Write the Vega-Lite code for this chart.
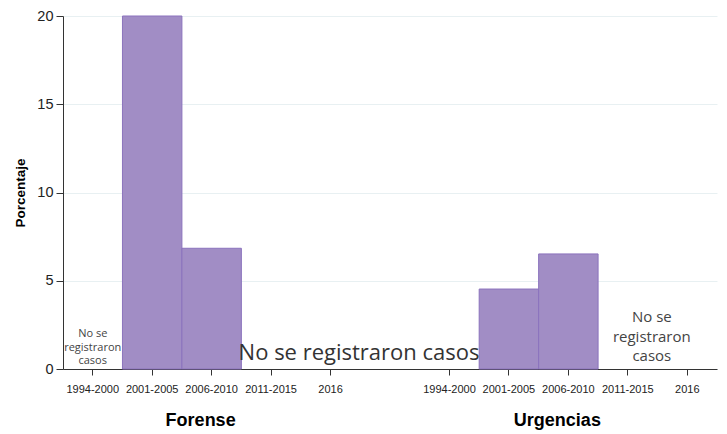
{
  "$schema": "https://vega.github.io/schema/vega-lite/v6.json",
  "width": 654,
  "height": 353,
  "autosize": {"type": "none"},
  "padding": {"left": 63, "top": 16, "right": 10, "bottom": 65},
  "background": "white",
  "config": {"view": {"stroke": null}, "font": "Liberation Sans"},
  "datasets": {
    "barras": [
      {"grupo": "Forense", "periodo": "2001-2005", "clave": "Forense|2001-2005", "porcentaje": 20},
      {"grupo": "Forense", "periodo": "2006-2010", "clave": "Forense|2006-2010", "porcentaje": 6.84},
      {"grupo": "Urgencias", "periodo": "2001-2005", "clave": "Urgencias|2001-2005", "porcentaje": 4.53},
      {"grupo": "Urgencias", "periodo": "2006-2010", "clave": "Urgencias|2006-2010", "porcentaje": 6.52}
    ],
    "notas": [
      {"nota": "a", "clave": "Forense|1994-2000", "texto": "No se\nregistraron\ncasos"},
      {"nota": "b", "clave": "Forense|2016", "texto": "No se  registraron casos"},
      {"nota": "c", "clave": "Urgencias|2011-2015", "texto": "No se\nregistraron\ncasos"}
    ],
    "grupos": [
      {"grupo": "Forense", "clave": "Forense|2006-2010"},
      {"grupo": "Urgencias", "clave": "Urgencias|2006-2010"}
    ]
  },
  "layer": [
    {
      "data": {"name": "barras"},
      "mark": {"type": "bar", "fill": "#a18dc5", "stroke": "#8b73bd", "strokeWidth": 1},
      "encoding": {
        "x": {
          "field": "clave",
          "type": "nominal",
          "sort": null,
          "scale": {
            "domain": ["Forense|1994-2000", "Forense|2001-2005", "Forense|2006-2010", "Forense|2011-2015", "Forense|2016", "sep", "Urgencias|1994-2000", "Urgencias|2001-2005", "Urgencias|2006-2010", "Urgencias|2011-2015", "Urgencias|2016"],
            "paddingInner": 0,
            "paddingOuter": 0
          },
          "axis": {
            "values": ["Forense|1994-2000", "Forense|2001-2005", "Forense|2006-2010", "Forense|2011-2015", "Forense|2016", "Urgencias|1994-2000", "Urgencias|2001-2005", "Urgencias|2006-2010", "Urgencias|2011-2015", "Urgencias|2016"],
            "labelExpr": "split(datum.value, '|')[1]",
            "title": null,
            "labelAngle": 0,
            "labelOverlap": false,
            "labelFontSize": 11,
            "labelColor": "#222",
            "labelPadding": 8,
            "tickSize": 6,
            "tickColor": "#333",
            "domainColor": "#333",
            "grid": false
          }
        },
        "y": {
          "field": "porcentaje",
          "type": "quantitative",
          "scale": {"domain": [0, 20], "nice": false},
          "axis": {
            "values": [0, 5, 10, 15, 20],
            "title": "Porcentaje",
            "titleFontSize": 13.5,
            "titleFontWeight": "bold",
            "titleColor": "#000",
            "titlePadding": 9,
            "labelFontSize": 14.5,
            "labelColor": "#222",
            "labelPadding": 3,
            "tickSize": 7,
            "tickColor": "#333",
            "domainColor": "#333",
            "gridColor": "#e8f0f2"
          }
        }
      }
    },
    {
      "data": {"name": "notas"},
      "transform": [{"filter": "datum.nota == 'a'"}],
      "mark": {"type": "text", "font": "Open Sans", "fontSize": 11, "lineHeight": 13.5, "lineBreak": "\n", "align": "center", "baseline": "alphabetic", "dy": -32, "fill": "#444"},
      "encoding": {"x": {"field": "clave", "type": "nominal"}, "y": {"datum": 0, "type": "quantitative"}, "text": {"field": "texto", "type": "nominal"}}
    },
    {
      "data": {"name": "notas"},
      "transform": [{"filter": "datum.nota == 'b'"}],
      "mark": {"type": "text", "font": "Open Sans", "fontSize": 22, "align": "center", "baseline": "alphabetic", "dx": 28.5, "dy": -9, "fill": "#333"},
      "encoding": {"x": {"field": "clave", "type": "nominal"}, "y": {"datum": 0, "type": "quantitative"}, "text": {"field": "texto", "type": "nominal"}}
    },
    {
      "data": {"name": "notas"},
      "transform": [{"filter": "datum.nota == 'c'"}],
      "mark": {"type": "text", "font": "Open Sans", "fontSize": 15, "lineHeight": 19.5, "lineBreak": "\n", "align": "center", "baseline": "alphabetic", "dx": 24, "dy": -47, "fill": "#444"},
      "encoding": {"x": {"field": "clave", "type": "nominal"}, "y": {"datum": 0, "type": "quantitative"}, "text": {"field": "texto", "type": "nominal"}}
    },
    {
      "data": {"name": "grupos"},
      "mark": {"type": "text", "font": "Liberation Sans", "fontSize": 18, "fontWeight": "bold", "align": "center", "baseline": "middle", "dx": -11, "dy": 52, "fill": "#000"},
      "encoding": {"x": {"field": "clave", "type": "nominal"}, "y": {"datum": 0, "type": "quantitative"}, "text": {"field": "grupo", "type": "nominal"}}
    }
  ]
}
